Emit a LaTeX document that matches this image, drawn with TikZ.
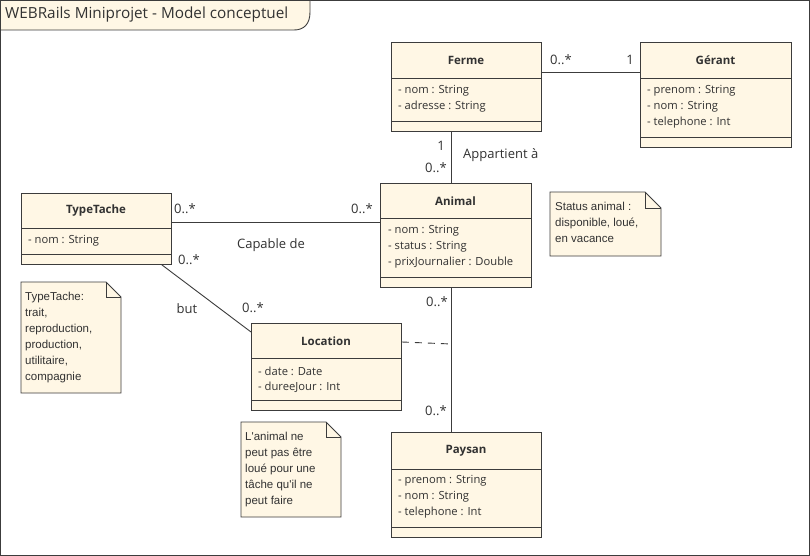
\documentclass[tikz,border=0pt]{standalone}
\usepackage{fontspec}
\setmainfont{Open Sans}
\newfontfamily\notefont{Liberation Sans}
\definecolor{cream}{RGB}{255,247,229}
\definecolor{edge}{RGB}{60,60,60}
\definecolor{txt}{RGB}{50,50,50}
\tikzset{
  cls/.style={draw=edge, fill=cream, line width=0.9pt, anchor=north west, inner sep=0pt},
  ctitle/.style={font=\fontsize{11.5}{13}\selectfont\bfseries, text=txt},
  attr/.style={font=\fontsize{11.2}{13}\selectfont, text=txt, anchor=west, inner sep=0pt},
  mult/.style={font=\fontsize{13}{15}\selectfont, text=txt, inner sep=0pt},
  notetext/.style={font=\notefont\fontsize{11.5}{16}\selectfont, text=txt, align=left, anchor=north west, inner sep=0pt},
  noteshape/.style={draw=edge, fill=cream, line width=0.9pt},
  conn/.style={draw=edge, line width=0.9pt},
  box/.style={anchor=north west, inner sep=0pt, outer sep=0pt}
}
\begin{document}
\begin{tikzpicture}[x=1pt,y=-1pt]
\useasboundingbox (0,0) rectangle (810,556);
\fill[white] (0,0) rectangle (810,556);
% frame and title tab
\draw[edge, line width=0.9pt] (0.5,0.5) rectangle (809.5,555.5);
\draw[edge, fill=cream, line width=0.9pt] (0.5,0.5) -- (310,0.5) -- (310,12) .. controls (310,24) and (304,30) .. (294,30) -- (0.5,30) -- cycle;
\node[anchor=west, inner sep=0pt, text=txt, font=\fontsize{15.3}{18}\selectfont] (title) at (5,15) {WEBRails Miniprojet - Model conceptuel};

% Ferme
\node[cls, minimum width=150pt, minimum height=89pt] (ferme) at (391,42) {};
\draw[conn] (391,78) -- (541,78) (391,121) -- (541,121);
\node[ctitle] (fermeT) at (466,60) {Ferme};
\node[attr] (fermeA1) at (398,91) {- nom : String};
\node[attr] (fermeA2) at (398,107) {- adresse : String};

% Gerant
\node[cls, minimum width=151pt, minimum height=105pt] (gerant) at (640,42) {};
\draw[conn] (640,78) -- (791,78) (640,137) -- (791,137);
\node[ctitle] (gerantT) at (715.5,60) {Gérant};
\node[attr] (gerantA1) at (647,91) {- prenom : String};
\node[attr] (gerantA2) at (647,107) {- nom : String};
\node[attr] (gerantA3) at (647,123) {- telephone : Int};

% Animal
\node[cls, minimum width=151pt, minimum height=104pt] (animal) at (380,183) {};
\draw[conn] (380,218) -- (531,218) (380,277) -- (531,277);
\node[ctitle] (animalT) at (455.5,201) {Animal};
\node[attr] (animalA1) at (388,231) {- nom : String};
\node[attr] (animalA2) at (388,247) {- status : String};
\node[attr] (animalA3) at (388,263) {- prixJournalier : Double};

% TypeTache
\node[cls, minimum width=150pt, minimum height=71pt] (typetache) at (21,193) {};
\draw[conn] (21,228) -- (171,228) (21,254) -- (171,254);
\node[ctitle] (typetacheT) at (96,211) {TypeTache};
\node[attr] (typetacheA1) at (28,241) {- nom : String};

% Location
\node[cls, minimum width=150pt, minimum height=87pt] (location) at (251,323) {};
\draw[conn] (251,358) -- (401,358) (251,400) -- (401,400);
\node[ctitle] (locationT) at (326,341) {Location};
\node[attr] (locationA1) at (258,371) {- date : Date};
\node[attr] (locationA2) at (258,387) {- dureeJour : Int};

% Paysan
\node[cls, minimum width=150pt, minimum height=105pt] (paysan) at (391,432) {};
\draw[conn] (391,469) -- (541,469) (391,527) -- (541,527);
\node[ctitle] (paysanT) at (466,451) {Paysan};
\node[attr] (paysanA1) at (398,481) {- prenom : String};
\node[attr] (paysanA2) at (398,497) {- nom : String};
\node[attr] (paysanA3) at (398,513) {- telephone : Int};

% Notes
\node[box, minimum width=111pt, minimum height=64pt] (note1) at (550,192) {};
\draw[noteshape] (note1.north west) -- ([xshift=-16pt]note1.north east) -- ([yshift=-16pt]note1.north east) -- (note1.south east) -- (note1.south west) -- cycle;
\draw[conn] ([xshift=-16pt]note1.north east) -- ([xshift=-16pt,yshift=-16pt]note1.north east) -- ([yshift=-16pt]note1.north east);
\node[notetext] (note1T) at (555,202) {Status animal :\\disponible, loué,\\en vacance};

\node[box, minimum width=100pt, minimum height=111pt] (note2) at (21,282) {};
\draw[noteshape] (note2.north west) -- ([xshift=-15pt]note2.north east) -- ([yshift=-15pt]note2.north east) -- (note2.south east) -- (note2.south west) -- cycle;
\draw[conn] ([xshift=-15pt]note2.north east) -- ([xshift=-15pt,yshift=-15pt]note2.north east) -- ([yshift=-15pt]note2.north east);
\node[notetext] (note2T) at (25,292) {TypeTache:\\trait,\\reproduction,\\production,\\utilitaire,\\compagnie};

\node[box, minimum width=100pt, minimum height=95pt] (note3) at (241,422) {};
\draw[noteshape] (note3.north west) -- ([xshift=-15pt]note3.north east) -- ([yshift=-15pt]note3.north east) -- (note3.south east) -- (note3.south west) -- cycle;
\draw[conn] ([xshift=-15pt]note3.north east) -- ([xshift=-15pt,yshift=-15pt]note3.north east) -- ([yshift=-15pt]note3.north east);
\node[notetext] (note3T) at (245,432) {L'animal ne\\peut pas être\\loué pour une\\tâche qu'il ne\\peut faire};

% Connectors
\draw[conn] ([yshift=-30pt]ferme.north east) -- ([yshift=-30pt]gerant.north west);
\node[mult] (m1) at (561,60) {0..*};
\node[mult] (m2) at (630,60) {1};

\draw[conn] ([xshift=-15pt]ferme.south) -- ([xshift=-15pt]ferme.south |- animal.north);
\node[mult] (m3) at (441,146) {1};
\node[mult] (m4) at (436,168) {0..*};
\node[mult, anchor=west] (lab1) at (463,155) {Appartient à};

\draw[conn] ([yshift=-39pt]animal.north west) -- ([yshift=-39pt]animal.north west -| typetache.east);
\node[mult] (m5) at (185,209) {0..*};
\node[mult] (m6) at (362,209) {0..*};
\node[mult] (lab2) at (271,245) {Capable de};

\draw[conn] ([xshift=-10pt]typetache.south east) -- ([yshift=-9pt]location.north west);
\node[mult] (m7) at (189,260) {0..*};
\node[mult] (lab3) at (187,309) {but};
\node[mult] (m8) at (253,308) {0..*};

\draw[conn] ([xshift=-15pt]paysan.north |- animal.south) -- ([xshift=-15pt]paysan.north);
\node[mult] (m9) at (437,302) {0..*};
\node[mult] (m10) at (436,411) {0..*};

\coordinate (assoc) at ([xshift=-15pt, yshift=88pt]paysan.north);
\draw[conn, dash pattern=on 7pt off 6pt] ([yshift=-19pt]location.north east) -- (assoc);
\end{tikzpicture}
\end{document}
